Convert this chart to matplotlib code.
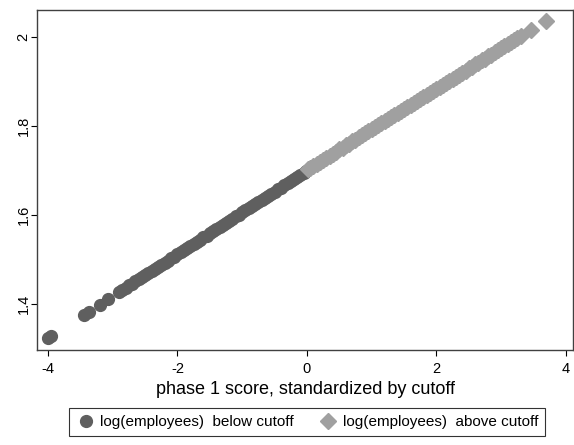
import matplotlib
matplotlib.use("Agg")
import matplotlib.pyplot as plt

plt.rcParams['font.family'] = ['Liberation Sans', 'DejaVu Sans']

# log(employees) below cutoff
below_x = [-4.00, -3.95, -3.45, -3.37, -3.20, -3.07,
           -2.90, -2.85, -2.80, -2.75, -2.70, -2.65, -2.60, -2.55, -2.50, -2.45,
           -2.40, -2.35, -2.30, -2.25, -2.20, -2.15, -2.10, -2.05, -2.00, -1.95,
           -1.90, -1.85, -1.80, -1.75, -1.70, -1.65, -1.60, -1.55, -1.50, -1.45,
           -1.40, -1.35, -1.30, -1.25, -1.20, -1.15, -1.10, -1.05, -1.00, -0.95,
           -0.90, -0.85, -0.80, -0.75, -0.70, -0.65, -0.60, -0.55, -0.50, -0.45,
           -0.40, -0.35, -0.30, -0.25, -0.20, -0.15, -0.10, -0.05, -0.01]
below_y = [1.324, 1.329, 1.376, 1.383, 1.399, 1.411,
           1.427, 1.432, 1.437, 1.442, 1.446, 1.451, 1.456, 1.460, 1.465, 1.470,
           1.474, 1.479, 1.484, 1.488, 1.493, 1.498, 1.503, 1.507, 1.512, 1.517,
           1.521, 1.526, 1.531, 1.536, 1.540, 1.545, 1.550, 1.554, 1.559, 1.564,
           1.568, 1.573, 1.578, 1.583, 1.587, 1.592, 1.597, 1.601, 1.606, 1.611,
           1.615, 1.620, 1.625, 1.630, 1.634, 1.639, 1.644, 1.648, 1.653, 1.658,
           1.662, 1.667, 1.672, 1.677, 1.681, 1.686, 1.691, 1.695, 1.699]

# log(employees) above cutoff
above_x = [0.02, 0.05, 0.10, 0.15, 0.20, 0.25, 0.30, 0.35, 0.40, 0.45,
           0.50, 0.55, 0.60, 0.65, 0.70, 0.75, 0.80, 0.85, 0.90, 0.95,
           1.00, 1.05, 1.10, 1.15, 1.20, 1.25, 1.30, 1.35, 1.40, 1.45,
           1.50, 1.55, 1.60, 1.65, 1.70, 1.75, 1.80, 1.85, 1.90, 1.95,
           2.00, 2.05, 2.10, 2.15, 2.20, 2.25, 2.30, 2.35, 2.40, 2.45,
           2.50, 2.55, 2.60, 2.65, 2.70, 2.75, 2.80, 2.85, 2.90, 2.95,
           3.00, 3.05, 3.10, 3.15, 3.20, 3.25, 3.30, 3.46, 3.69]
above_y = [1.704, 1.707, 1.711, 1.716, 1.720, 1.725, 1.729, 1.734, 1.738, 1.743,
           1.748, 1.752, 1.757, 1.761, 1.766, 1.770, 1.775, 1.779, 1.784, 1.788,
           1.793, 1.798, 1.802, 1.807, 1.811, 1.816, 1.820, 1.825, 1.829, 1.834,
           1.839, 1.843, 1.848, 1.852, 1.857, 1.861, 1.866, 1.870, 1.875, 1.879,
           1.884, 1.889, 1.893, 1.898, 1.902, 1.907, 1.911, 1.916, 1.920, 1.925,
           1.930, 1.934, 1.939, 1.943, 1.948, 1.952, 1.957, 1.961, 1.966, 1.970,
           1.975, 1.980, 1.984, 1.989, 1.993, 1.998, 2.002, 2.017, 2.036]

xticks = [-4, -2, 0, 2, 4]
yticks = [1.4, 1.6, 1.8, 2.0]
ytick_labels = ['1.4', '1.6', '1.8', '2']

W, H = 574, 445
fig = plt.figure(figsize=(W / 100, H / 100), dpi=100)
ax = fig.add_axes([37 / W, 1 - 350 / H, 536 / W, 340 / H])

ax.plot(below_x, below_y, 'o', ms=8.5, color='#5f5f5f', mec='#5f5f5f',
        label='log(employees)  below cutoff')
ax.plot(above_x, above_y, 'D', ms=8.3, color='#a0a0a0', mec='#a0a0a0',
        label='log(employees)  above cutoff')

ax.set_xlim(-4.17, 4.11)
ax.set_ylim(1.297, 2.061)
ax.set_xticks(xticks)
ax.set_xticklabels([str(t) for t in xticks])
ax.set_yticks(yticks)
ax.set_yticklabels(ytick_labels, rotation=90, va='center')
ax.tick_params(labelsize=10.5, length=4.5, width=0.8, color='black')
ax.tick_params(axis='y', pad=0)
ax.tick_params(axis='x', pad=4)
for s in ax.spines.values():
    s.set_color('#404040')
    s.set_linewidth(1.0)

ax.set_xlabel('phase 1 score, standardized by cutoff', fontsize=13, labelpad=4)

leg = fig.legend(loc='center', bbox_to_anchor=(307 / W, 1 - 422 / H), ncol=2,
                 fontsize=11, frameon=True, fancybox=False, edgecolor='black',
                 handletextpad=0.3, columnspacing=1.6, borderpad=0.45,
                 handlelength=1.3, numpoints=1)
leg.get_frame().set_linewidth(0.8)

fig.savefig('out.png', dpi=100)
